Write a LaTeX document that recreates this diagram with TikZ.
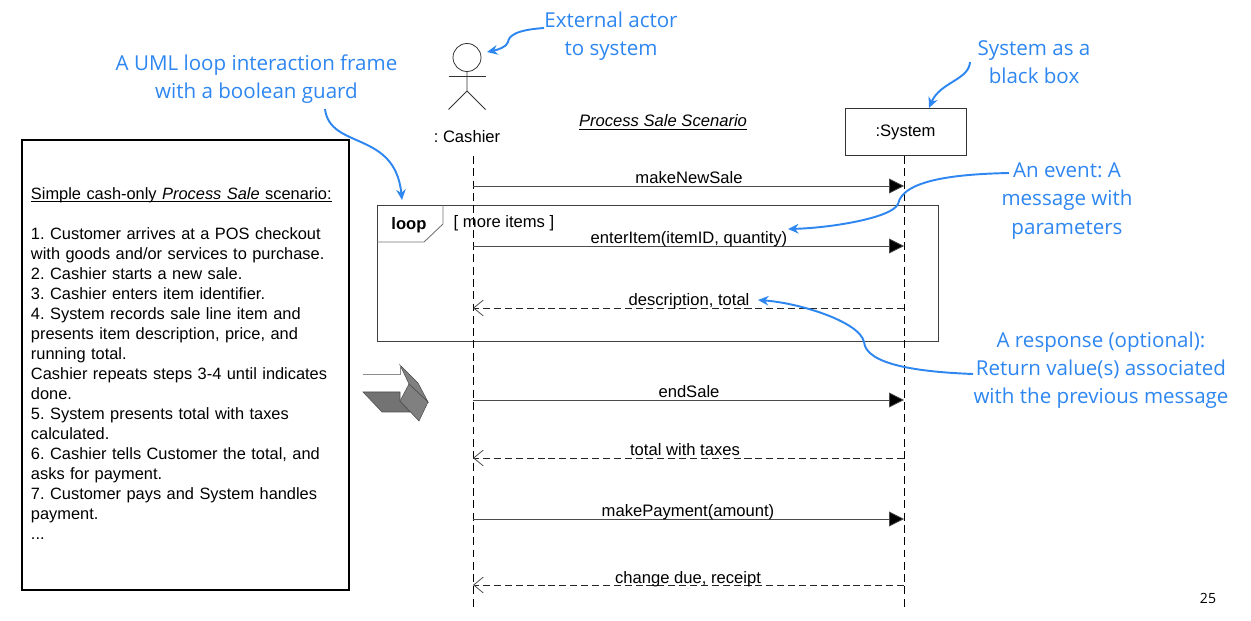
\documentclass[tikz,border=0pt]{standalone}
\usepackage{fontspec}
\setmainfont{Liberation Sans}
\newfontfamily\notefont{Open Sans}
\usetikzlibrary{arrows.meta}
\definecolor{noteblue}{RGB}{46,134,240}
\frenchspacing
\newcommand{\ulbox}[1]{\underline{\smash{#1}}\vphantom{gy}}
\tikzset{
  msgtext/.style={font=\fontsize{9.45}{11}\selectfont, inner sep=0pt, anchor=base},
  note/.style={font=\notefont\fontsize{11.7}{16}\selectfont, text=noteblue, align=center, inner sep=0pt},
  notearrow/.style={draw=noteblue, line width=1.1pt, -{Stealth[length=6pt,width=5.5pt]}},
  call/.style={draw=black!70, line width=0.45pt, -{Triangle[length=8.5pt,width=8.5pt,fill=black]}},
  reply/.style={draw=black!85, line width=0.45pt, dash pattern=on 4pt off 2.2pt, -{Straight Barb[length=5.5pt,width=9pt,black!70]}},
  lifeline/.style={draw=black, line width=0.5pt, dash pattern=on 4.5pt off 2.5pt},
}
\begin{document}
\begin{tikzpicture}[x=0.02cm,y=-0.02cm]
\useasboundingbox (0,0) rectangle (1251,621);
% scenario text
\node[draw, line width=0.8pt, minimum width=327*0.02cm, minimum height=450*0.02cm, text width=309*0.02cm, align=left, inner sep=0pt, font=\fontsize{9.33}{11.4}\selectfont] (scenario) at (185.5,365) {\ulbox{Simple cash-only \textit{Process Sale} scenario:}\\[11.4pt]
1. Customer arrives at a POS checkout\\
with goods and/or services to purchase.\\
2. Cashier starts a new sale.\\
3. Cashier enters item identifier.\\
4. System records sale line item and\\
presents item description, price, and\\
running total.\\
Cashier repeats steps 3-4 until indicates\\
done.\\
5. System presents total with taxes\\
calculated.\\
6. Cashier tells Customer the total, and\\
asks for payment.\\
7. Customer pays and System handles\\
payment.\\
...};
% block arrow
\fill[black!50, draw=black!70, line width=0.3pt] (400,365) -- (418,383) -- (428,402) -- (409,384) -- cycle;
\draw[black!45, line width=0.5pt] (363,374) -- (400,374) -- (400,365);
\fill[black!55, draw=black!70, line width=0.3pt] (363,392) -- (400,392) -- (400,401) -- (410,412) -- (382,412) -- cycle;
\fill[black!50, draw=black!70, line width=0.3pt] (400,401) -- (409,384) -- (428,402) -- (419,421) -- cycle;
% actor
\node[draw=black!80, circle, line width=0.45pt, minimum size=28*0.02cm, inner sep=0pt] (head) at (467,57.5) {};
\coordinate (hip) at (467,91);
\draw[black!80, line width=0.45pt] (head.south) -- (hip) -- (448.5,109.5);
\draw[black!80, line width=0.45pt] (hip) -- (485.5,109.5);
\draw[black!80, line width=0.45pt] (448.5,76) -- (485.5,76);
\node[msgtext, anchor=center] (cashier) at (467,137) {: Cashier};
% system
\node[draw=black!80, line width=0.5pt, minimum width=121*0.02cm, minimum height=47*0.02cm, inner sep=0pt] (system) at (905.5,131.5) {};
\node[msgtext] (systemname) at (905.5,136.5) {:System};
\node[font=\fontsize{9.45}{11}\selectfont\itshape, inner sep=0pt, anchor=base] (title) at (663,127) {\ulbox{Process Sale Scenario}};
% loop frame
\draw[black!75, line width=0.5pt] (377,205) rectangle (938,341);
\node[inner sep=0pt] (looptag) at (409,225) {\fontsize{9.45}{11}\selectfont\bfseries loop};
\draw[black!55, line width=0.5pt] (377,242) -- (424,242) -- (443,224) -- (443,205);
\node[font=\fontsize{9.45}{11}\selectfont, inner sep=0pt] (guard) at (504,223) {[ more items ]};
% lifelines
\coordinate (cashiertop) at (473,156);
\coordinate (cashierend) at (473,607);
\coordinate (systemtop) at (904,156);
\coordinate (systemend) at (904,607);
\draw[lifeline] (cashiertop) -- (cashierend);
\draw[lifeline] (systemtop) -- (systemend);
% messages
\foreach \nm/\ypos in {a/186,b/246,c/308,d/400,e/458,f/519,g/585}{
  \coordinate (cash\nm) at (473,\ypos);
  \coordinate (sys\nm) at (904,\ypos);
}
\draw[call] (casha) -- (sysa);
\draw[call] (cashb) -- (sysb);
\draw[reply] (sysc) -- (cashc);
\draw[call] (cashd) -- (sysd);
\draw[reply] (syse) -- (cashe);
\draw[call] (cashf) -- (sysf);
\draw[reply] (sysg) -- (cashg);
\node[msgtext] (m1) at (689,183.5) {makeNewSale};
\node[msgtext] (m2) at (689,243.5) {enterItem(itemID, quantity)};
\node[msgtext] (m3) at (689,306) {description, total};
\node[msgtext] (m4) at (689,398) {endSale};
\node[msgtext] (m5) at (685,455.5) {total with taxes};
\node[msgtext] (m6) at (688,516.5) {makePayment(amount)};
\node[msgtext] (m7) at (688,583) {change due, receipt};
% notes
\node[note] (actornote) at (611,36.5) {External actor\\to system};
\node[note] (systemnote) at (1034,62.5) {System as a\\black box};
\node[note] (loopnote) at (256.5,79.5) {A UML loop interaction frame\\with a boolean guard};
\node[note] (eventnote) at (1067,201) {An event: A\\message with\\parameters};
\node[note] (replynote) at (1101,370) {A response (optional):\\Return value(s) associated\\with the previous message};
\draw[notearrow] (actornote.west |- 0,28) .. controls (515,30) and (509,36) .. (508,42) .. controls (507,47) and (497,50) .. (487,52);
\draw[notearrow] (970,62) .. controls (969,80) and (940,82) .. (929,108);
\draw[notearrow] (325,109) .. controls (330,150) and (395,130) .. (402,200);
\draw[notearrow] (1009,173) .. controls (965,174) and (903,178) .. (898,204) .. controls (892,218) and (830,228) .. (788,229);
\draw[notearrow] (973,374) .. controls (920,372) and (866,365) .. (864,342) .. controls (860,322) and (800,303) .. (758,300);
\node[font=\notefont\fontsize{8}{10}\selectfont, inner sep=0pt] (pagenum) at (1208,598) {25};
\end{tikzpicture}
\end{document}
